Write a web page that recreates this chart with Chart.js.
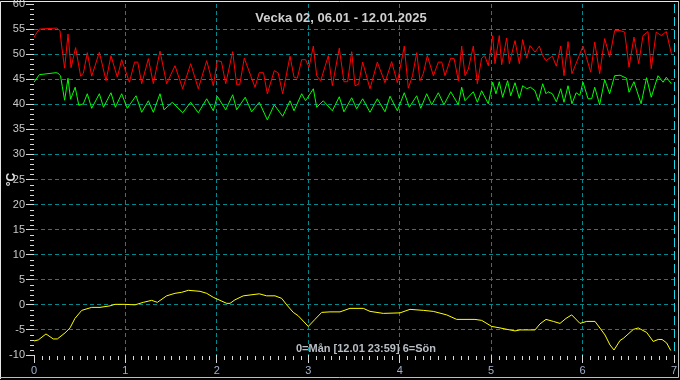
<!DOCTYPE html>
<html>
<head>
<meta charset="utf-8">
<script src="https://cdn.jsdelivr.net/npm/chart.js@4"></script>
<style>
html,body{margin:0;padding:0;background:#000;}
#wrap{width:680px;height:380px;}
</style>
</head>
<body>
<div id="wrap"><canvas id="c" width="680" height="380"></canvas></div>
<script>
// ---- Data (time in days: 0=Mån ... 7) ----
const chartTitle = 'Vecka 02, 06.01 - 12.01.2025';
const footNote = '0=Mån [12.01 23:59] 6=Sön';
const yAxisTitle = '°C';

const redT = [0.000,0.058,0.248,0.284,0.300,0.335,0.372,0.405,0.455,0.510,0.540,0.583,0.631,0.715,0.788,0.842,0.911,0.959,1.043,1.100,1.135,1.178,1.251,1.305,1.378,1.451,1.542,1.626,1.714,1.797,1.889,1.961,2.005,2.050,2.097,2.173,2.217,2.250,2.300,2.417,2.464,2.510,2.552,2.628,2.670,2.720,2.800,2.844,2.880,2.928,2.970,3.008,3.055,3.092,3.136,3.219,3.263,3.339,3.390,3.430,3.475,3.511,3.550,3.595,3.675,3.755,3.839,3.912,3.974,4.050,4.094,4.140,4.186,4.222,4.258,4.302,4.368,4.422,4.460,4.495,4.558,4.595,4.641,4.678,4.714,4.750,4.805,4.849,4.896,4.930,4.969,5.017,5.042,5.089,5.115,5.170,5.199,5.261,5.308,5.345,5.389,5.425,5.480,5.527,5.564,5.600,5.670,5.713,5.761,5.797,5.841,5.884,6.005,6.041,6.089,6.133,6.187,6.242,6.296,6.351,6.410,6.460,6.508,6.562,6.614,6.661,6.715,6.751,6.806,6.861,6.916,6.971];
const redV = [53.4,55.0,55.2,54.7,52.0,47.2,54.0,47.3,51.3,45.6,46.2,50.3,45.6,50.4,44.7,49.7,45.4,48.9,44.4,48.4,48.4,44.1,49.1,44.1,50.6,44.1,47.7,43.1,48.1,43.1,48.7,43.7,48.7,48.5,44.1,50.5,43.9,43.9,49.2,43.4,46.3,46.3,42.1,46.7,46.3,42.1,49.6,45.4,45.2,48.9,48.9,47.4,51.6,45.7,44.7,49.7,43.7,51.2,44.5,44.5,50.5,43.7,44.0,48.4,43.1,48.4,44.3,48.5,44.3,51.6,43.2,45.7,50.3,44.7,46.1,49.7,45.7,48.4,48.4,45.7,49.2,49.1,44.7,51.6,45.7,47.0,51.6,44.1,49.2,49.7,47.7,53.7,48.1,53.7,47.9,53.2,48.1,52.7,48.1,52.9,49.2,51.7,50.4,51.6,49.7,48.7,49.6,47.6,51.6,45.7,52.5,46.1,51.6,49.4,46.4,52.4,46.1,53.1,49.4,54.7,54.7,54.4,47.4,53.4,48.1,53.7,54.5,47.1,54.4,53.7,54.5,50.1];

const greenT = [0.000,0.058,0.240,0.262,0.290,0.310,0.335,0.372,0.400,0.450,0.490,0.540,0.583,0.631,0.715,0.760,0.842,0.890,0.959,1.020,1.116,1.178,1.251,1.305,1.378,1.422,1.513,1.626,1.714,1.797,1.889,1.961,2.005,2.097,2.173,2.217,2.310,2.380,2.464,2.552,2.628,2.720,2.800,2.844,2.928,2.970,3.010,3.055,3.092,3.164,3.263,3.339,3.390,3.475,3.529,3.595,3.675,3.755,3.839,3.894,3.974,4.050,4.105,4.186,4.230,4.295,4.350,4.422,4.484,4.558,4.641,4.678,4.714,4.805,4.849,4.896,4.969,5.017,5.053,5.089,5.126,5.180,5.214,5.261,5.308,5.345,5.389,5.430,5.480,5.516,5.564,5.600,5.622,5.670,5.713,5.761,5.797,5.841,5.884,5.930,5.970,6.005,6.060,6.100,6.133,6.187,6.242,6.296,6.351,6.410,6.480,6.508,6.562,6.640,6.700,6.751,6.825,6.880,6.916,6.971];
const greenV = [44.4,45.9,46.3,46.2,45.7,43.5,40.8,45.2,41.0,43.4,39.8,40.1,42.1,39.2,42.1,39.4,42.3,39.4,42.1,39.2,41.7,38.4,40.7,38.4,42.1,38.9,40.4,38.3,40.4,38.3,41.1,38.7,41.6,38.9,41.9,38.9,41.4,38.5,40.4,36.9,39.9,37.6,40.7,38.7,42.1,40.7,41.8,43.1,39.4,40.7,38.7,41.5,38.5,41.3,39.1,41.1,38.4,41.1,38.5,41.6,38.7,42.3,39.4,41.7,39.2,42.1,39.9,42.3,39.9,42.5,39.9,43.4,40.7,42.5,40.4,42.7,40.1,44.4,42.1,44.5,41.4,44.7,41.7,44.3,41.2,43.7,43.1,43.4,42.7,40.7,44.1,42.1,42.5,42.1,40.5,43.1,40.4,43.7,40.1,42.3,41.8,44.4,41.1,41.1,43.4,39.9,44.9,42.1,45.7,45.8,45.2,42.4,44.5,40.1,45.3,41.4,45.7,44.4,45.4,44.1];

const yellowT = [0.000,0.047,0.131,0.211,0.255,0.339,0.394,0.448,0.522,0.631,0.722,0.831,0.886,0.995,1.105,1.195,1.287,1.349,1.451,1.542,1.615,1.688,1.816,1.889,1.961,2.034,2.108,2.144,2.198,2.289,2.464,2.545,2.636,2.709,2.764,2.836,2.891,3.000,3.073,3.147,3.237,3.347,3.456,3.602,3.675,3.820,4.003,4.112,4.258,4.367,4.514,4.623,4.823,4.897,5.006,5.097,5.151,5.261,5.316,5.480,5.534,5.600,5.680,5.753,5.819,5.881,5.972,6.045,6.136,6.245,6.300,6.344,6.410,6.445,6.555,6.609,6.701,6.773,6.828,6.869,6.920,6.964];
const yellowV = [-7.2,-7.0,-5.8,-6.8,-6.8,-5.6,-4.6,-2.7,-1.1,-0.5,-0.5,-0.2,0.1,0.1,0.0,0.5,0.9,0.5,1.8,2.3,2.5,2.9,2.7,2.3,1.5,0.9,0.3,0.3,1.0,1.8,2.2,1.8,1.8,1.3,0.0,-1.5,-2.2,-4.3,-2.9,-1.5,-1.4,-1.4,-0.7,-0.7,-1.3,-1.7,-1.6,-0.9,-1.1,-1.3,-2.0,-2.9,-2.9,-3.1,-4.3,-4.6,-4.8,-5.2,-5.0,-5.0,-3.8,-2.9,-3.3,-3.7,-2.7,-2.0,-3.7,-3.3,-3.3,-6.0,-8.0,-9.0,-7.1,-6.7,-4.9,-4.6,-5.5,-7.3,-6.9,-6.9,-7.6,-9.1];

const xMin = 0, xMax = 7, xStep = 1, xMinorPerMajor = 12;
const yMin = -10, yMax = 60, yStep = 5, yMinorStep = 1;

function pts(t, v){ return t.map((x,i)=>({x:x, y:v[i]})); }

const FONT = "'Liberation Sans', Arial, sans-serif";
const GRID = '#008a8f';

const decor = {
  id: 'decor',
  beforeDraw(chart){
    const ctx = chart.ctx;
    ctx.save();
    ctx.fillStyle = '#000';
    ctx.fillRect(0,0,chart.width,chart.height);
    ctx.restore();
  },
  beforeDatasetsDraw(chart){
    const ctx = chart.ctx, xs = chart.scales.x, ys = chart.scales.y, a = chart.chartArea;
    ctx.save();
    // bright right-edge line at x = 7
    const px7 = Math.round(xs.getPixelForValue(xMax)) + 0.5;
    ctx.strokeStyle = '#19d7e6';
    ctx.lineWidth = 1;
    ctx.setLineDash([9,4]);
    ctx.beginPath(); ctx.moveTo(px7, a.top); ctx.lineTo(px7, a.bottom); ctx.stroke();
    ctx.setLineDash([]);
    // minor ticks
    ctx.strokeStyle = '#d8d8d8';
    ctx.beginPath();
    for (let v = yMin; v <= yMax; v += yMinorStep){
      if (v % yStep === 0) continue;
      const py = Math.round(ys.getPixelForValue(v)) + 0.5;
      ctx.moveTo(a.left - 4, py); ctx.lineTo(a.left, py);
    }
    for (let d = xMin; d < xMax; d += xStep){
      for (let k = 1; k < xMinorPerMajor; k++){
        const px = Math.round(xs.getPixelForValue(d + k / xMinorPerMajor)) + 0.5;
        ctx.moveTo(px, a.bottom + 1); ctx.lineTo(px, a.bottom + 5);
      }
    }
    ctx.stroke();
    ctx.restore();
  },
  afterDraw(chart){
    const ctx = chart.ctx, a = chart.chartArea;
    ctx.save();
    ctx.textAlign = 'center';
    ctx.textBaseline = 'middle';
    ctx.fillStyle = '#cfcfcf';
    ctx.font = 'bold 13px ' + FONT;
    ctx.fillText(chartTitle, 341, 18);
    ctx.fillStyle = '#b8bec6';
    ctx.font = 'bold 11px ' + FONT;
    ctx.fillText(footNote, 366, 349);
    // frame
    ctx.strokeStyle = '#e6e6e6';
    ctx.lineWidth = 1;
    ctx.beginPath();
    ctx.moveTo(0.5, 379); ctx.lineTo(0.5, 1.5); ctx.lineTo(679, 1.5);
    ctx.stroke();
    ctx.strokeStyle = '#bdbdbd';
    ctx.beginPath();
    ctx.moveTo(678.5, 1); ctx.lineTo(678.5, 377.5); ctx.lineTo(0, 377.5);
    ctx.stroke();
    ctx.restore();
  }
};

new Chart(document.getElementById('c'), {
  type: 'line',
  data: {
    datasets: [
      { data: pts(redT, redV), borderColor: '#ff0000', borderWidth: 1, pointRadius: 0, tension: 0, fill: false },
      { data: pts(greenT, greenV), borderColor: '#00ff00', borderWidth: 1, pointRadius: 0, tension: 0, fill: false },
      { data: pts(yellowT, yellowV), borderColor: '#ffff00', borderWidth: 1, pointRadius: 0, tension: 0, fill: false }
    ]
  },
  options: {
    responsive: false,
    animation: false,
    events: [],
    layout: { padding: { top: 4, right: 6, left: 0, bottom: 0 } },
    plugins: { legend: { display: false }, tooltip: { enabled: false }, title: { display: false } },
    scales: {
      x: {
        type: 'linear', min: xMin, max: xMax,
        border: { display: false, dash: [4,3] },
        grid: {
          color: (c) => (c.tick && (c.tick.value === xMin || c.tick.value === xMax)) ? 'rgba(0,0,0,0)' : GRID,
          lineWidth: 1, drawTicks: true, tickLength: 8, tickColor: '#d8d8d8'
        },
        ticks: { stepSize: xStep, color: '#9fb0cc', padding: 1, maxRotation: 0, autoSkip: false,
                 font: { family: FONT, size: 11 } },
        afterFit(s){ s.height = 25; s.paddingLeft = 0; s.paddingRight = 0; }
      },
      y: {
        min: yMin, max: yMax,
        border: { display: false, dash: [4,3] },
        grid: {
          color: (c) => (c.tick && (c.tick.value === yMin || c.tick.value === yMax)) ? 'rgba(0,0,0,0)' : GRID,
          lineWidth: 1, drawTicks: true, tickLength: 8, tickColor: '#d8d8d8'
        },
        ticks: { stepSize: yStep, color: '#c8c8c8', padding: 1, font: { family: FONT, size: 11 } },
        title: { display: true, text: yAxisTitle, color: '#e0e0e0', font: { family: FONT, size: 12, weight: 'bold' }, padding: { top: 4, bottom: 0 } },
        afterFit(s){ s.width = 34; s.paddingTop = 0; s.paddingBottom = 0; }
      }
    }
  },
  plugins: [decor]
});
</script>
</body>
</html>
